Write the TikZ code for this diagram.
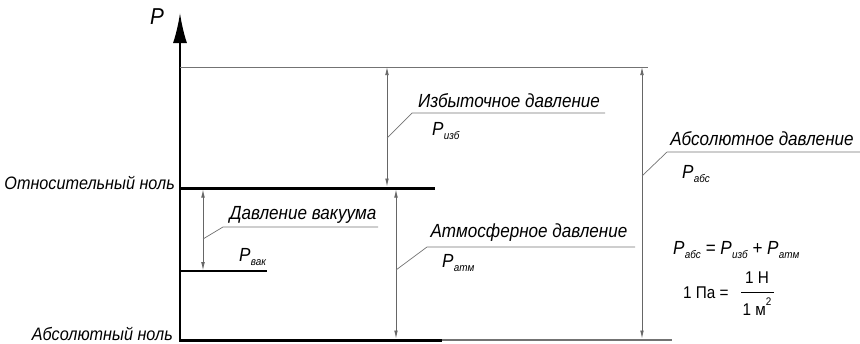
\documentclass[tikz,border=0pt]{standalone}
\usepackage{fontspec}
\setmainfont{Liberation Sans}[FakeStretch=0.9]
\usetikzlibrary{arrows.meta}

% pressure symbol with a small subscript
\newcommand{\psym}[1]{P\kern0.3pt\raisebox{-0.45ex}{\fontsize{11}{12}\selectfont #1}}

\begin{document}
\begin{tikzpicture}[x=1pt,y=-1pt,
  thickline/.style={line width=3pt},
  midline/.style={line width=1.6pt},
  thinline/.style={draw=black!55, line width=0.8pt},
  dimline/.style={draw=black!60, line width=0.7pt,
    {Latex[length=8pt,width=3.6pt]}-{Latex[length=8pt,width=3.6pt]}},
  leader/.style={draw=black!55, line width=0.7pt},
  lbl/.style={font=\fontsize{19}{21}\selectfont\itshape, inner sep=0pt},
  zerolbl/.style={font=\fontsize{18}{20}\selectfont\itshape, inner sep=0pt, anchor=east},
  sym/.style={font=\fontsize{19}{21}\selectfont\itshape, inner sep=0pt, anchor=west},
  upr/.style={font=\fontsize{17}{19}\selectfont, inner sep=0pt},
]
\useasboundingbox (0,0) rectangle (860,343);

% pressure axis
\coordinate (axbot) at (180,341.5);
\coordinate (axtop) at (180,13);
\draw[line width=2pt, -{Latex[length=30pt,width=14pt]}] (axbot) -- (axtop);
\node[lbl, font=\fontsize{23}{24}\selectfont\itshape] (plab) at (157,17) {P};

% pressure levels
\coordinate (lvtopL) at (180,67);   \coordinate (lvtopR) at (648,67);
\coordinate (relL) at (180,188);    \coordinate (relR) at (435,188);
\coordinate (vacL) at (180,271);    \coordinate (vacR) at (267,271);
\coordinate (absL) at (180,340);    \coordinate (absM) at (442,340);
\coordinate (absR) at (672,340);
\draw[thinline] (lvtopL) -- (lvtopR);
\draw[thickline] (relL) -- (relR);
\draw[midline] (vacL) -- (vacR);
\draw[thickline] (absL) -- (absM);
\draw[thinline, line width=1.2pt] (absM) -- (absR);

\node[zerolbl] (relzero) at (175,183) {Относительный ноль};
\node[zerolbl] (abszero) at (173,334) {Абсолютный ноль};

% dimension lines
\coordinate (exT) at (387,67);   \coordinate (exB) at (387,186.5);
\coordinate (atT) at (396,189.5);\coordinate (atB) at (396,338.5);
\coordinate (vaT) at (203,189.5);\coordinate (vaB) at (203,270.2);
\coordinate (abT) at (642,67);   \coordinate (abB) at (642,338.5);
\draw[dimline] (exT) -- (exB);
\draw[dimline] (atT) -- (atB);
\draw[dimline] (vaT) -- (vaB);
\draw[dimline] (abT) -- (abB);

% leaders with captions
\coordinate (exL0) at (387,138); \coordinate (exL1) at (412,113); \coordinate (exL2) at (605,113);
\draw[leader] (exL0) -- (exL1) -- (exL2);
\node[lbl] (extxt) at (509,101) {Избыточное давление};
\node[sym] (exsym) at (432,131) {\psym{изб}};

\coordinate (vaL0) at (203,239); \coordinate (vaL1) at (223,227); \coordinate (vaL2) at (378,227);
\draw[leader] (vaL0) -- (vaL1) -- (vaL2);
\node[lbl] (vatxt) at (303,215) {Давление вакуума};
\node[sym] (vasym) at (239,257) {\psym{вак}};

\coordinate (atL0) at (396,270); \coordinate (atL1) at (427,247); \coordinate (atL2) at (635,247);
\draw[leader] (atL0) -- (atL1) -- (atL2);
\node[lbl] (attxt) at (529,233) {Атмосферное давление};
\node[sym] (atsym) at (442,263) {\psym{атм}};

\coordinate (abL0) at (642,176); \coordinate (abL1) at (667,152); \coordinate (abL2) at (860,152);
\draw[leader] (abL0) -- (abL1) -- (abL2);
\node[lbl] (abtxt) at (762,139) {Абсолютное давление};
\node[sym] (absym) at (682,174) {\psym{абс}};

% relations
\node[sym] (formula) at (673,250) {\psym{абс} = \psym{изб} + \psym{атм}};
\node[upr, anchor=west] (pascal) at (683,293) {1 Па =};
\node[upr] (num) at (757,278) {1 Н};
\node[upr] (den) at (757,307) {1 м\raisebox{1.1ex}{\fontsize{11}{11}\selectfont 2}};
\coordinate (barL) at (741,292); \coordinate (barR) at (774,292);
\draw[line width=0.7pt] (barL) -- (barR);
\end{tikzpicture}
\end{document}
